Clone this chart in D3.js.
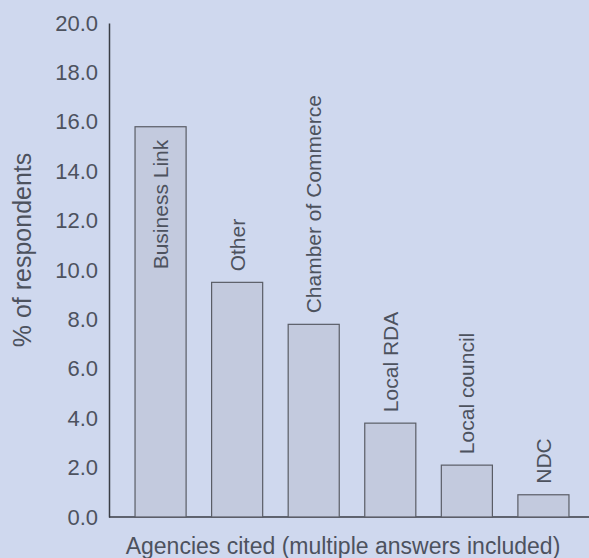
<!DOCTYPE html>
<html>
<head>
<meta charset="utf-8">
<script src="https://cdn.jsdelivr.net/npm/d3@7"></script>
<style>
  body { margin: 0; background: #cfd8ee; }
  svg { display: block; font-family: "Liberation Sans", Arial, sans-serif; }
  .axis text { fill: #4d525e; font-size: 22px; }
  .bar-label { fill: #4d525e; font-size: 21px; }
  .axis-label { fill: #4d525e; }
</style>
</head>
<body>
<div id="plotArea"></div>
<script>
// Agencies cited and % of respondents
const agencies = ["Business Link", "Other", "Chamber of Commerce", "Local RDA", "Local council", "NDC"];
const percents = [15.8, 9.5, 7.8, 3.8, 2.1, 0.9];
const yTicks = [0, 2, 4, 6, 8, 10, 12, 14, 16, 18, 20];

const data = agencies.map((a, i) => ({ agency: a, value: percents[i] }));

let margin = {top: 23, right: 0, bottom: 41, left: 109};
let width = 589 - margin.left - margin.right;
let height = 558 - margin.top - margin.bottom;

let svg = d3.select("#plotArea").append("svg")
    .attr("width", 589)
    .attr("height", 558);

svg.append("rect")
    .attr("width", 589)
    .attr("height", 558)
    .attr("fill", "#cfd8ee");

let g = svg.append("g")
    .attr("transform", "translate(" + margin.left + "," + margin.top + ")");

// Scales
let xScale = d3.scaleBand()
    .domain(agencies)
    .range([0, 486])
    .paddingInner(0.333)
    .paddingOuter(0.34);

let yScale = d3.scaleLinear()
    .domain([0, 20])
    .range([height, 0]);

// Axes
let yAxis = d3.axisLeft(yScale)
    .tickValues(yTicks)
    .tickFormat(d3.format(".1f"))
    .tickSize(0)
    .tickPadding(11);

let yg = g.append("g")
    .attr("class", "axis")
    .call(yAxis);
yg.select(".domain").attr("stroke", "#3a3d45").attr("stroke-width", 1.5);

g.append("line")
    .attr("x1", 0)
    .attr("x2", width)
    .attr("y1", height)
    .attr("y2", height)
    .attr("stroke", "#3a3d45")
    .attr("stroke-width", 1.5);

// Bars
g.selectAll(".bar")
    .data(data)
    .enter().append("rect")
    .attr("class", "bar")
    .attr("x", d => xScale(d.agency))
    .attr("y", d => yScale(d.value))
    .attr("width", xScale.bandwidth())
    .attr("height", d => height - yScale(d.value))
    .attr("fill", "#c3cade")
    .attr("stroke", "#5a5d66")
    .attr("stroke-width", 1.2);

// Bar labels (rotated; the tallest bar carries its label inside, hanging from the top)
g.selectAll(".bar-label")
    .data(data)
    .enter().append("text")
    .attr("class", "bar-label")
    .attr("transform", d => {
        let x = xScale(d.agency) + xScale.bandwidth() / 2;
        let inside = d.value > 14;
        let y = inside ? yScale(d.value) + 13 : yScale(d.value) - 11;
        return "translate(" + x + "," + y + ") rotate(-90)";
    })
    .attr("dy", "0.35em")
    .attr("text-anchor", d => d.value > 14 ? "end" : "start")
    .text(d => d.agency);

// Axis labels
svg.append("text")
    .attr("class", "axis-label")
    .attr("text-anchor", "middle")
    .attr("font-size", 23)
    .attr("x", 343)
    .attr("y", 554)
    .text("Agencies cited (multiple answers included)");

svg.append("text")
    .attr("class", "axis-label")
    .attr("text-anchor", "middle")
    .attr("font-size", 25)
    .attr("transform", "translate(31,250) rotate(-90)")
    .text("% of respondents");
</script>
</body>
</html>
